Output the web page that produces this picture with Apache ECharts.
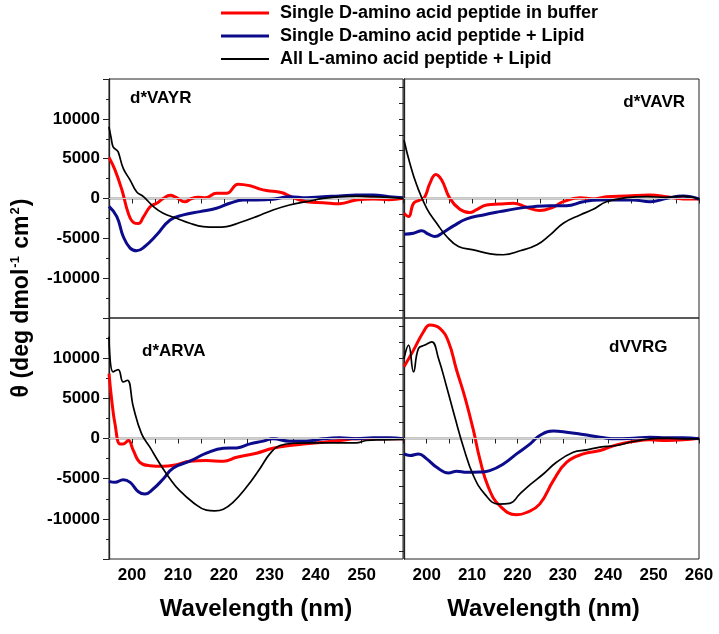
<!DOCTYPE html>
<html>
<head>
<meta charset="utf-8">
<script src="https://cdn.jsdelivr.net/npm/echarts@6/dist/echarts.min.js"></script>
<style>html,body{margin:0;padding:0;background:#fff;}#c{width:719px;height:634px;}</style>
</head>
<body>
<div id="c"></div>
<script>
// ---- data: [wavelength nm, theta] ----
const seriesNames = ['Single D-amino acid peptide in buffer', 'Single D-amino acid peptide + Lipid', 'All L-amino acid peptide + Lipid'];
const panelLabels = ['d*VAYR', 'd*VAVR', 'd*ARVA', 'dVVRG'];
const xTickLabels = [200, 210, 220, 230, 240, 250, 260];
const yTickLabels = [-10000, -5000, 0, 5000, 10000];

const vayrBuffer = [[195,5150],[196.3,3600],[197.8,1100],[199.2,-1850],[200.3,-3000],[201.4,-3150],[202.5,-2300],[204,-1000],[205.4,-600],[206.8,0],[208.3,400],[209.7,100],[211.5,-420],[213,0],[214.5,150],[216,100],[218.4,650],[220.6,650],[223.1,1800],[225.7,1600],[227.5,1250],[229.3,1000],[232.5,760],[235,140],[238,-400],[241.6,-520],[245.2,-650],[248.8,-190],[252.5,-60],[256,-150],[259,20]];
const vayrLipid = [[195,-1000],[196.7,-2270],[198.1,-4770],[199.6,-6230],[201,-6560],[202.8,-6020],[205.4,-4560],[208.3,-2690],[211.2,-2060],[214.8,-1650],[218.4,-1230],[221.3,-600],[224.2,-190],[227.1,-190],[230.7,-100],[234.3,230],[238,100],[241.6,230],[245.2,310],[248.8,440],[252.5,440],[256,230],[259,100]];
const vayrAllL = [[195,8980],[195.5,7500],[195.9,6480],[196.6,6100],[197,5850],[198.1,3790],[199.6,2310],[201,850],[202.5,230],[204.7,-1020],[206.8,-1850],[209.7,-2480],[212.6,-3100],[215.5,-3520],[218.4,-3600],[220.6,-3520],[223.5,-3020],[227.1,-2270],[230.7,-1440],[234.3,-810],[238,-400],[241.6,20],[245.2,230],[248.8,310],[252.5,230],[256,150],[259,20]];

const vavrBuffer = [[195,-1850],[196,-2270],[197.1,-600],[198.5,-190],[199.6,230],[200.7,1900],[202,3020],[203.3,2310],[205.1,20],[207.3,-1350],[209.5,-1770],[210.9,-1440],[213.2,-810],[216.1,-690],[219.1,-600],[222,-1100],[224.9,-1520],[227.8,-1100],[230.1,-400],[233.8,100],[236.7,-60],[239.6,230],[244,310],[249.2,440],[252.9,230],[256.5,-60],[260,-60]];
const vavrLipid = [[195,-4480],[197.1,-4360],[198.9,-4060],[200.4,-4480],[201.8,-4770],[203.7,-4230],[205.9,-3440],[208.8,-2560],[212.5,-2060],[216.1,-1650],[219.8,-1270],[223.5,-1020],[227.2,-900],[230.8,-900],[234.5,-400],[238.2,-190],[241.8,-190],[245.5,-190],[249.2,-400],[252.9,20],[256.5,310],[260,-60]];
const vavrAllL = [[195,7310],[196.3,4400],[197.8,1690],[200,-1230],[202.2,-3100],[204.4,-4770],[207,-6020],[210.3,-6440],[214,-6940],[216.9,-7060],[220.6,-6560],[224.3,-5810],[227.2,-4560],[230.1,-3100],[233.8,-2060],[236.7,-1350],[239.6,-400],[244,100],[248.5,230],[252.9,150],[256.5,310],[260,-60]];

const arvaBuffer = [[195,8080],[195.6,4750],[196.3,1830],[197.4,-670],[198.1,-670],[199.2,-250],[200.3,-1500],[201.7,-2960],[203.9,-3380],[206.8,-3460],[209.7,-3250],[212.6,-2830],[216.2,-2750],[219.9,-2830],[222.8,-2330],[227.1,-1830],[230.7,-1210],[234.3,-875],[238,-670],[241.6,-460],[245.2,-250],[248.8,-40],[252.5,-40],[256,-40],[259,-40]];
const arvaLipid = [[195,-5330],[196.3,-5460],[198.1,-5130],[199.6,-5460],[201.4,-6630],[202.8,-6920],[204.6,-6290],[206.8,-5040],[209,-3670],[212.6,-2830],[216.2,-1830],[219.9,-1210],[222.8,-1170],[225.7,-670],[228.6,-330],[230.7,-40],[234.3,-330],[238,-330],[241.6,-40],[245.2,80],[248.8,-40],[252.5,80],[256,80],[259,-40]];
const arvaAllL = [[195,12670],[195.9,8290],[197,8580],[198.1,7040],[199,7250],[200.3,3920],[202.1,580],[203.9,-1080],[206.1,-3170],[208.3,-5040],[210.4,-6500],[213.3,-7960],[216.2,-8920],[218,-9000],[219.9,-8800],[222,-7960],[224.9,-6080],[227.8,-3790],[230,-1920],[232.2,-875],[235.8,-580],[240.1,-540],[245.2,-540],[248.8,-540],[251,-250],[254.6,-170],[259,-125]];

const vvrgBuffer = [[195,8920],[197.1,11000],[199.3,13290],[200.7,14125],[202.9,13710],[204.8,12040],[206.6,8500],[208.4,5170],[210.3,1000],[211.7,-2540],[213.6,-6080],[216.1,-8375],[219.8,-9500],[222,-9210],[224.9,-8170],[227.9,-5250],[230.8,-2960],[234.5,-1920],[238.2,-1500],[241.8,-790],[245.5,-375],[249.2,-170],[252.9,-250],[256.5,-170],[260,40]];
const vvrgLipid = [[195,-1920],[196.3,-2125],[198.2,-1920],[200,-2540],[202.2,-3580],[204.8,-4290],[206.6,-4080],[208.8,-4210],[211.7,-4170],[213.9,-4000],[216.9,-3170],[219.8,-1920],[222.8,-670],[224.9,375],[227.9,920],[230.8,790],[234.5,500],[238.2,170],[241.8,-40],[245.5,40],[249.2,170],[252.9,80],[256.5,80],[260,-40]];
const vvrgAllL = [[195,9960],[196,11625],[197.1,8290],[198.2,11210],[199.6,11625],[201.1,12040],[202.6,9960],[204.4,6420],[206.2,2670],[208.1,-1080],[210.3,-4625],[212.8,-6920],[215.8,-8170],[218.3,-8080],[220.5,-6920],[222.8,-5750],[225.7,-4420],[228.6,-2960],[232.3,-1710],[235.2,-1420],[238.2,-1080],[241.8,-875],[245.5,-375],[249.2,-40],[252.9,40],[256.5,-40],[260,-40]];

// ---- chart ----
const FONT = 'Liberation Sans, Arial, Helvetica, sans-serif';
const colors = ['#ff0000', '#0b0b8c', '#000000'];
const widths = [3, 3, 1.7];
const panelData = [
  [vayrBuffer, vayrLipid, vayrAllL],
  [vavrBuffer, vavrLipid, vavrAllL],
  [arvaBuffer, arvaLipid, arvaAllL],
  [vvrgBuffer, vvrgLipid, vvrgAllL]
];
const grids = [
  {left: 109, top: 79, width: 294, height: 239},
  {left: 404, top: 79, width: 295, height: 239},
  {left: 109, top: 318, width: 294, height: 241},
  {left: 404, top: 318, width: 295, height: 241}
];
const axisColor = '#222';
const rightTicks = [];
for (let v = -14000; v <= 14000; v += 2000) rightTicks.push(v);

const xAxes = grids.map((g, i) => ({
  type: 'value', gridIndex: i, min: 195, max: (i % 2 === 0) ? 259 : 260, interval: 5,
  axisLine: {show: true, lineStyle: {color: axisColor, width: 1.3}},
  axisTick: {show: true, inside: false, length: 5, lineStyle: {color: axisColor, width: 1}},
  splitLine: {show: false},
  axisLabel: {
    show: i >= 2, margin: 8, color: '#000', fontSize: 17, fontWeight: 'bold', fontFamily: FONT,
    formatter: v => (xTickLabels.indexOf(v) >= 0 ? String(v) : '')
  },
  name: i >= 2 ? 'Wavelength (nm)' : '', nameLocation: 'middle', nameGap: 38,
  nameTextStyle: {color: '#000', fontSize: 24, fontWeight: 'bold', fontFamily: FONT, padding: i === 3 ? [0, 16, 0, 0] : 0}
}));
const yAxes = grids.map((g, i) => ({
  type: 'value', gridIndex: i, min: -15000, max: 15000, interval: 5000,
  axisLine: {show: true, lineStyle: {color: axisColor, width: 1.3}},
  axisTick: i % 2 === 0 ? {show: true, length: 6, lineStyle: {color: axisColor}}
                        : {show: true, length: 5, customValues: rightTicks, lineStyle: {color: axisColor}},
  minorTick: {show: i % 2 === 0, splitNumber: 2, length: 3, lineStyle: {color: axisColor}},
  splitLine: {show: false},
  axisLabel: {
    show: i % 2 === 0, margin: 9, color: '#000', fontSize: 17, fontWeight: 'bold', fontFamily: FONT,
    formatter: v => (yTickLabels.indexOf(v) >= 0 ? String(v) : '')
  }
}));

const series = [];
panelData.forEach((set, p) => {
  set.forEach((data, k) => {
    const s = {
      type: 'line', name: seriesNames[k], xAxisIndex: p, yAxisIndex: p, data: data,
      symbol: 'none', showSymbol: false, smooth: 0.45,
      lineStyle: {color: colors[k], width: widths[k]}, itemStyle: {color: colors[k]},
      z: 3 + k
    };
    if (k === 0) {
      s.markLine = {silent: true, symbol: 'none', animation: false, label: {show: false},
        lineStyle: {color: '#d0d0d0', width: 1, type: 'solid'}, data: [{yAxis: 0}]};
    }
    series.push(s);
  });
});

const labelPos = [
  {x: 130, y: 98, align: 'left'},
  {x: 685, y: 102, align: 'right'},
  {x: 142, y: 351, align: 'left'},
  {x: 609, y: 347, align: 'left'}
];
const graphics = panelLabels.map((t, i) => ({
  type: 'text', x: labelPos[i].x, y: labelPos[i].y, z: 10,
  style: {text: t, fill: '#000', font: 'bold 17px ' + FONT, textAlign: labelPos[i].align, textVerticalAlign: 'middle'}
}));
graphics.push({
  type: 'text', x: 22, y: 298, rotation: Math.PI / 2, z: 10,
  style: {
    text: 'θ (deg dmol{sup|-1} cm{sup|2})',
    fill: '#000', font: 'bold 23px ' + FONT, textAlign: 'center', textVerticalAlign: 'middle',
    rich: {sup: {fontSize: 13, fontWeight: 'bold', fontFamily: FONT, verticalAlign: 'top', lineHeight: 26, padding: [0, 1, 12, 1]}}
  }
});

const legendIcons = ['path://M0,0L48,0L48,3L0,3Z', 'path://M0,0L48,0L48,3L0,3Z', 'path://M0,0L48,0L48,2L0,2Z'];
const chart = echarts.init(document.getElementById('c'), null, {renderer: 'canvas'});
chart.setOption({
  animation: false,
  backgroundColor: '#fff',
  grid: grids.map(g => Object.assign({show: true, borderColor: axisColor, borderWidth: 1, backgroundColor: 'transparent'}, g)),
  xAxis: xAxes,
  yAxis: yAxes,
  legend: {
    orient: 'vertical', left: 221, top: 4, padding: 0, itemWidth: 48, itemHeight: 14, itemGap: 5,
    symbolKeepAspect: true,
    data: seriesNames.map((n, k) => ({name: n, icon: legendIcons[k], itemStyle: {color: colors[k]}})),
    selectedMode: false,
    textStyle: {color: '#000', fontSize: 18, fontWeight: 'bold', fontFamily: FONT, padding: [0, 0, 0, 6]}
  },
  series: series,
  graphic: graphics
});
</script>
</body>
</html>
